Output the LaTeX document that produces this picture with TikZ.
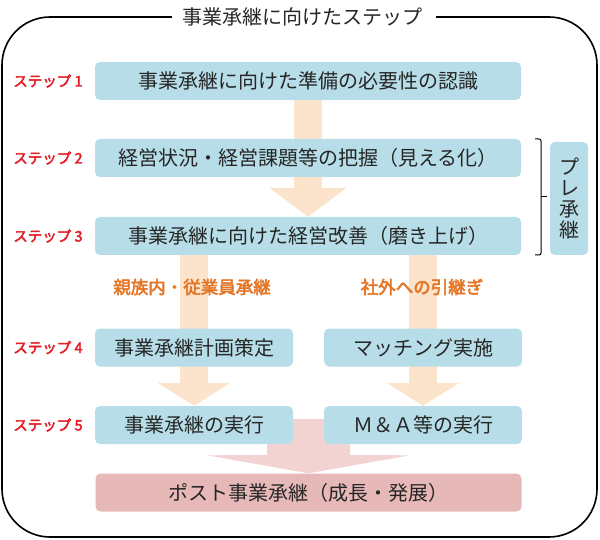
\documentclass[tikz,border=0pt]{standalone}
\usepackage{fontspec}
\newfontfamily\jp{Noto Sans CJK JP}
\newfontfamily\jpb[FakeBold=3]{Noto Sans CJK JP}
\usepackage{tikz}
\usetikzlibrary{positioning,arrows.meta,backgrounds,calc}
\definecolor{boxblue}{HTML}{B7DEE8}
\definecolor{postpink}{HTML}{E6B8B7}
\definecolor{arrowpeach}{HTML}{FCE4CC}
\definecolor{arrowpink}{HTML}{F2D3D2}
\definecolor{stepred}{RGB}{226,30,38}
\definecolor{routeorange}{RGB}{228,118,40}

\begin{document}
\begin{tikzpicture}[x=1pt,y=-1pt,
  box/.style={fill=boxblue,rounded corners=5pt,minimum height=38pt,inner sep=0pt,text=black!85,font=\jp\fontsize{20}{22}\selectfont},
  wide/.style={box,minimum width=426pt},
  half/.style={box,minimum width=198pt},
  steplbl/.style={inner sep=0pt,text=stepred,font=\jpb\fontsize{14.5}{16}\selectfont},
  route/.style={inner sep=0pt,text=routeorange,font=\jpb\fontsize{17.5}{19}\selectfont},
  flow/.style={draw=arrowpeach,line width=28pt}]
\useasboundingbox (0,0) rectangle (600,540);

\node[inner sep=0pt,text=black!85,font=\jp\fontsize{20}{22}\selectfont] (ttl) at (302,17) {事業承継に向けたステップ};
\draw[line width=1.6pt,rounded corners=48pt] ([xshift=-10pt]ttl.west) -- (2,17) -- (2,537) -- (597,537) -- (597,17) -- ([xshift=14pt]ttl.east);

\node[wide] (b1) at (308,81) {事業承継に向けた準備の必要性の認識};
\node[wide] (b2) at (308,158) {経営状況・経営課題等の把握（見える化）};
\node[wide] (b3) at (308,236) {事業承継に向けた経営改善（磨き上げ）};
\node[half] (b4l) at (194,347.5) {事業承継計画策定};
\node[half] (b4r) at (423,347.5) {マッチング実施};
\node[half] (b5l) at (194,425) {事業承継の実行};
\node[half] (b5r) at (423,425) {Ｍ＆Ａ等の実行};
\node[wide,fill=postpink] (post) at (308.5,492.5) {ポスト事業承継（成長・発展）};

\node[steplbl,left=12pt of b1] (s1) {ステップ 1};
\node[steplbl,left=12pt of b2] (s2) {ステップ 2};
\node[steplbl,left=12pt of b3] (s3) {ステップ 3};
\node[steplbl,left=12pt of b4l] (s4) {ステップ 4};
\node[steplbl,left=12pt of b5l] (s5) {ステップ 5};

\node[route] (fam) at (192,287) {親族内・従業員承継};
\node[route] (ext) at (422,287) {社外への引継ぎ};

\node[box,minimum width=38pt,minimum height=113pt,align=center,font=\jp\fontsize{20}{21}\selectfont] (pre) at (569,198.5) {プ\\レ\\承\\継};
\draw[line width=1pt,rounded corners=2pt] (535,139) -- (541,139) -- (541,255) -- (535,255);
\draw[line width=1pt] (541,197) -- (547,197);

\begin{scope}[on background layer]
\draw[flow,-{Triangle[width=76pt,length=29pt]}] (b1.south) -- (b3.north);
\draw[flow,-{Triangle[width=72pt,length=23pt]}] (b3.south -| b4l) -- (b5l.north);
\draw[flow,-{Triangle[width=72pt,length=23pt]}] (b3.south -| b4r) -- (b5r.north);
\coordinate (pk) at (308.5,419);
\fill[arrowpink] ($(pk)+(-41.5,0)$) -- ($(pk)+(-41.5,36)$) -- ($(post.north)+(-101.5,-18)$) -- (post.north) -- ($(post.north)+(101.5,-18)$) -- ($(pk)+(41.5,36)$) -- ($(pk)+(41.5,0)$) -- cycle;
\end{scope}
\end{tikzpicture}
\end{document}
